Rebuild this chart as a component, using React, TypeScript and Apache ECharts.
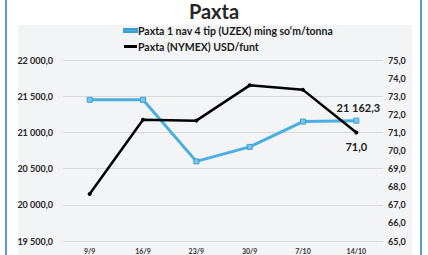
import React, { useEffect, useRef } from "react";
import * as echarts from "echarts";

const categories = ["9/9", "16/9", "23/9", "30/9", "7/10", "14/10"];
const uzexValues = [21450, 21450, 20600, 20800, 21150, 21162.3];
const nymexValues = [67.6, 71.7, 71.65, 73.6, 73.35, 71.0];
const uzexName = "Paxta 1 nav 4 tip (UZEX) ming so‘m/tonna";
const nymexName = "Paxta (NYMEX) USD/funt";

const fmt = (v: number) => {
  const fixed = v.toFixed(1);
  const [intPart, dec] = fixed.split(".");
  const withSp = intPart.replace(/\B(?=(\d{3})+(?!\d))/g, " ");
  return withSp + "," + dec;
};

const FONT = "Lato, 'Noto Sans', sans-serif";

export default function App() {
  const ref = useRef<HTMLDivElement>(null);
  useEffect(() => {
    if (!ref.current) return;
    const chart = echarts.init(ref.current, undefined, { renderer: "svg" });
    chart.setOption({
      animation: false,
      backgroundColor: "#ffffff",
      textStyle: { fontFamily: FONT },
      graphic: [
        { type: "rect", z: -10, shape: { x: 18, y: 25, width: 394, height: 235 }, style: { fill: "#f3f4f6" }, silent: true },
        { type: "rect", z: -10, shape: { x: 5, y: 0, width: 2, height: 255 }, style: { fill: "#5b9bd5" }, silent: true },
        { type: "rect", z: -10, shape: { x: 420, y: 0, width: 2, height: 255 }, style: { fill: "#5b9bd5" }, silent: true },
      ],
      title: {
        text: "Paxta",
        left: "center",
        top: 0,
        padding: [1, 5, 0, 5],
        textStyle: { fontSize: 20, fontWeight: "bold", color: "#262626", fontFamily: FONT },
      },
      legend: {
        orient: "vertical",
        left: 118,
        top: 22,
        padding: [3, 5, 3, 5],
        itemGap: 5,
        itemWidth: 13,
        itemHeight: 3,
        textStyle: { fontSize: 10.5, fontWeight: "bold", color: "#1a1a1a", fontFamily: FONT, padding: [0, 0, 0, -4] },
        data: [
          { name: uzexName, icon: "rect", itemStyle: { color: "#4aaee0" } },
          { name: nymexName, icon: "rect", itemStyle: { color: "#000000" } },
        ],
      },
      grid: { left: 63, right: 45, top: 60, bottom: 14 },
      xAxis: {
        type: "category",
        data: categories,
        boundaryGap: true,
        axisLine: { show: false },
        axisTick: { show: false },
        axisLabel: { fontSize: 7, fontWeight: "bold", color: "#333", margin: 6, fontFamily: FONT },
      },
      yAxis: [
        {
          type: "value",
          min: 19500,
          max: 22000,
          interval: 500,
          axisLine: { show: false },
          axisTick: { show: false },
          splitLine: { lineStyle: { color: "#d9d9d9", width: 1 } },
          axisLabel: { fontSize: 9, fontWeight: "bold", color: "#262626", margin: 10, formatter: (v: number) => fmt(v), fontFamily: FONT },
        },
        {
          type: "value",
          min: 65,
          max: 75,
          interval: 1,
          axisLine: { show: false },
          axisTick: { show: false },
          splitLine: { show: false },
          axisLabel: { fontSize: 9, fontWeight: "bold", color: "#262626", margin: 5, formatter: (v: number) => fmt(v), fontFamily: FONT },
        },
      ],
      series: [
        {
          name: uzexName,
          type: "line",
          yAxisIndex: 0,
          data: uzexValues,
          color: "#4aaee0",
          lineStyle: { width: 3, color: "#4aaee0" },
          symbol: "rect",
          symbolSize: 5,
          itemStyle: { color: "#7cc6ea", borderColor: "#3a9fd0", borderWidth: 1 },
          label: {
            show: true,
            position: "top",
            distance: 5,
            fontSize: 11,
            fontWeight: "bold",
            color: "#1a1a1a",
            offset: [2, 0],
            fontFamily: FONT,
            formatter: (p: any) => (p.dataIndex === uzexValues.length - 1 ? fmt(p.value) : ""),
          },
          z: 2,
        },
        {
          name: nymexName,
          type: "line",
          yAxisIndex: 1,
          data: nymexValues,
          color: "#000000",
          lineStyle: { width: 2.5, color: "#000000" },
          symbol: "circle",
          symbolSize: 4,
          itemStyle: { color: "#000000" },
          label: {
            show: true,
            position: "bottom",
            distance: 7,
            fontSize: 11,
            fontWeight: "bold",
            color: "#1a1a1a",
            fontFamily: FONT,
            formatter: (p: any) => (p.dataIndex === nymexValues.length - 1 ? fmt(p.value) : ""),
          },
          z: 3,
        },
      ],
    });
    return () => chart.dispose();
  }, []);
  return (
    <div
      ref={ref}
      style={{ position: "fixed", left: 0, top: 0, width: 428, height: 255 }}
    />
  );
}
